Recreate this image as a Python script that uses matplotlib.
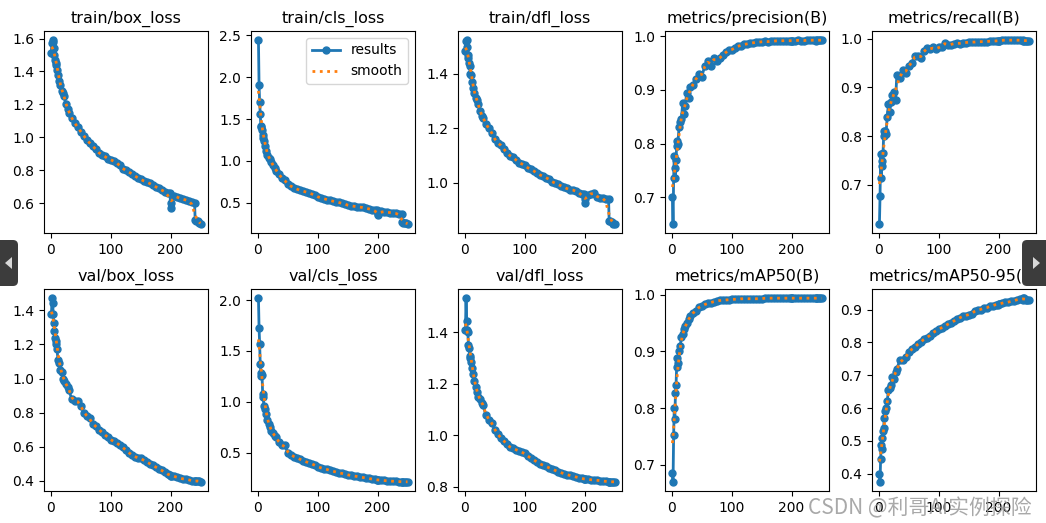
import numpy as np
import matplotlib
matplotlib.use("Agg")
import matplotlib.pyplot as plt
from matplotlib.patches import FancyBboxPatch, Polygon
from matplotlib.ticker import MultipleLocator

# ---------------- data ----------------
epochs = [1, 2, 3, 4, 5, 6, 7, 8, 9, 10,
          12, 14, 16, 18, 20, 22,
          25, 28,
          30, 35, 40, 45, 50, 55, 60, 65, 70, 75, 80, 85, 90, 95, 100, 105, 110,
          115, 120, 125, 130, 135, 140, 145, 150, 155, 160, 165, 170, 175, 180,
          185, 190, 195,
          199, 200, 201,
          205, 210, 215, 220, 225, 230, 235, 240,
          241, 243, 245, 248, 250]

train_box_loss = [1.515, 1.57, 1.59, 1.58, 1.54, 1.50, 1.47, 1.45, 1.44, 1.41,
                  1.38, 1.34, 1.32, 1.28, 1.27, 1.25,
                  1.20, 1.17,
                  1.145, 1.115, 1.085, 1.06, 1.035, 1.01, 0.985, 0.965, 0.945, 0.93,
                  0.905, 0.895, 0.885, 0.87, 0.865, 0.855, 0.845, 0.83, 0.81, 0.80,
                  0.79, 0.78, 0.765, 0.755, 0.745, 0.735, 0.73, 0.72, 0.71, 0.70,
                  0.69, 0.68, 0.67, 0.665,
                  0.66, 0.57, 0.60,
                  0.645, 0.64, 0.63, 0.625, 0.62, 0.615, 0.605, 0.60,
                  0.50, 0.495, 0.49, 0.48, 0.475]

train_cls_loss = [2.44, 1.91, 1.70, 1.56, 1.42, 1.40, 1.37, 1.31, 1.27, 1.24,
                  1.18, 1.12, 1.07, 1.04, 1.02, 0.99,
                  0.95, 0.92,
                  0.875, 0.84, 0.795, 0.77, 0.72, 0.70, 0.68, 0.665, 0.65, 0.64,
                  0.63, 0.62, 0.605, 0.595, 0.57, 0.56, 0.55, 0.54, 0.53, 0.52,
                  0.515, 0.505, 0.495, 0.49, 0.47, 0.465, 0.46, 0.455, 0.45, 0.445,
                  0.435, 0.43, 0.42, 0.415,
                  0.41, 0.35, 0.37,
                  0.40, 0.395, 0.39, 0.385, 0.38, 0.375, 0.37, 0.365,
                  0.27, 0.265, 0.26, 0.255, 0.25]

train_dfl_loss = [1.484, 1.522, 1.524, 1.50, 1.47, 1.46, 1.44, 1.43, 1.40, 1.395,
                  1.37, 1.35, 1.33, 1.31, 1.305, 1.29,
                  1.265, 1.245,
                  1.24, 1.215, 1.20, 1.185, 1.16, 1.145, 1.14, 1.125, 1.11, 1.10,
                  1.095, 1.085, 1.075, 1.07, 1.065, 1.055, 1.05, 1.045, 1.035, 1.03,
                  1.025, 1.02, 1.015, 1.005, 1.00, 0.995, 0.99, 0.985, 0.98, 0.975,
                  0.975, 0.97, 0.965, 0.96,
                  0.96, 0.925, 0.94,
                  0.955, 0.96, 0.965, 0.95, 0.945, 0.945, 0.94, 0.94,
                  0.86, 0.86, 0.855, 0.85, 0.85]

precision = [0.70, 0.65, 0.736, 0.777, 0.755, 0.735, 0.77, 0.795, 0.805, 0.80,
             0.83, 0.84, 0.845, 0.875, 0.855, 0.87,
             0.895, 0.885,
             0.905, 0.91, 0.92, 0.93, 0.925, 0.945, 0.955, 0.945, 0.96, 0.955,
             0.96, 0.965, 0.97, 0.975, 0.975, 0.978, 0.982, 0.983, 0.985, 0.986,
             0.987, 0.988, 0.989, 0.989, 0.99, 0.991, 0.99, 0.991, 0.991, 0.992,
             0.992, 0.992, 0.992, 0.992,
             0.992, 0.992, 0.992,
             0.992, 0.993, 0.992, 0.992, 0.993, 0.993, 0.993, 0.992,
             0.993, 0.993, 0.993, 0.993, 0.993]

recall = [0.62, 0.677, 0.763, 0.714, 0.75, 0.739, 0.765, 0.80, 0.81, 0.81,
          0.805, 0.84, 0.865, 0.85, 0.87, 0.885,
          0.89, 0.875,
          0.925, 0.92, 0.935, 0.93, 0.945, 0.95, 0.965, 0.965, 0.96, 0.975,
          0.98, 0.978, 0.982, 0.978, 0.982, 0.984, 0.992, 0.987, 0.988, 0.99,
          0.991, 0.99, 0.992, 0.992, 0.993, 0.993, 0.993, 0.994, 0.994, 0.994,
          0.994, 0.995, 0.995, 0.995,
          0.996, 0.996, 0.996,
          0.997, 0.997, 0.997, 0.997, 0.997, 0.997, 0.997, 0.997,
          0.996, 0.996, 0.996, 0.996, 0.996]

val_box_loss = [1.38, 1.472, 1.443, 1.38, 1.326, 1.28, 1.24, 1.22, 1.20, 1.175,
                1.11, 1.09, 1.05, 1.04, 1.00, 0.985,
                0.97, 0.95,
                0.93, 0.88, 0.865, 0.87, 0.84, 0.80, 0.78, 0.765, 0.73, 0.72,
                0.70, 0.685, 0.67, 0.655, 0.64, 0.63, 0.62, 0.61, 0.595, 0.58,
                0.565, 0.55, 0.54, 0.535, 0.53, 0.52, 0.51, 0.50, 0.49, 0.48,
                0.47, 0.46, 0.45, 0.44,
                0.435, 0.43, 0.43,
                0.425, 0.42, 0.415, 0.41, 0.41, 0.405, 0.40, 0.395,
                0.395, 0.40, 0.40, 0.395, 0.393]

val_cls_loss = [2.02, 1.73, 1.57, 1.37, 1.28, 1.25, 1.26, 1.08, 1.05, 0.96,
                0.93, 0.88, 0.82, 0.78, 0.75, 0.71,
                0.69, 0.66,
                0.655, 0.60, 0.57, 0.57, 0.50, 0.48, 0.46, 0.45, 0.435, 0.42,
                0.41, 0.40, 0.39, 0.375, 0.36, 0.35, 0.34, 0.335, 0.325, 0.315,
                0.31, 0.30, 0.295, 0.29, 0.28, 0.275, 0.27, 0.265, 0.26, 0.255,
                0.25, 0.245, 0.24, 0.235,
                0.232, 0.23, 0.23,
                0.228, 0.225, 0.222, 0.22, 0.218, 0.216, 0.215, 0.213,
                0.213, 0.212, 0.212, 0.212, 0.212]

val_dfl_loss = [1.41, 1.533, 1.443, 1.41, 1.40, 1.35, 1.34, 1.31, 1.30, 1.285,
                1.26, 1.24, 1.21, 1.19, 1.17, 1.15,
                1.14, 1.125,
                1.12, 1.08, 1.06, 1.05, 1.022, 1.005, 0.99, 0.98, 0.965, 0.955,
                0.95, 0.945, 0.94, 0.935, 0.93, 0.92, 0.912, 0.905, 0.898, 0.89,
                0.885, 0.88, 0.875, 0.87, 0.865, 0.86, 0.856, 0.852, 0.848, 0.845,
                0.842, 0.839, 0.836, 0.834,
                0.832, 0.831, 0.83,
                0.83, 0.828, 0.827, 0.826, 0.825, 0.823, 0.822, 0.821,
                0.82, 0.82, 0.82, 0.82, 0.82]

map50 = [0.686, 0.67, 0.753, 0.80, 0.78, 0.826, 0.84, 0.873, 0.888, 0.88,
         0.90, 0.91, 0.925, 0.93, 0.94, 0.945,
         0.95, 0.958,
         0.962, 0.968, 0.972, 0.978, 0.98, 0.983, 0.985, 0.986, 0.988, 0.989,
         0.99, 0.99, 0.991, 0.991, 0.992, 0.992, 0.992, 0.993, 0.993, 0.993,
         0.993, 0.993, 0.993, 0.993, 0.993, 0.994, 0.994, 0.994, 0.994, 0.994,
         0.994, 0.994, 0.994, 0.994,
         0.994, 0.994, 0.994,
         0.994, 0.994, 0.994, 0.994, 0.994, 0.994, 0.994, 0.994,
         0.994, 0.994, 0.994, 0.994, 0.994]

map50_95 = [0.40, 0.375, 0.445, 0.487, 0.475, 0.51, 0.53, 0.54, 0.57, 0.59,
            0.60, 0.62, 0.655, 0.66, 0.67, 0.695,
            0.69, 0.71,
            0.72, 0.745, 0.745, 0.755, 0.77, 0.78, 0.785, 0.795, 0.80, 0.81,
            0.815, 0.82, 0.83, 0.835, 0.84, 0.845, 0.85, 0.855, 0.86, 0.865,
            0.87, 0.875, 0.88, 0.882, 0.885, 0.888, 0.895, 0.90, 0.90, 0.905,
            0.905, 0.91, 0.912, 0.915,
            0.915, 0.918, 0.918,
            0.92, 0.922, 0.922, 0.925, 0.927, 0.93, 0.932, 0.935,
            0.93, 0.935, 0.93, 0.93, 0.93]

titles = ["train/box_loss", "train/cls_loss", "train/dfl_loss",
          "metrics/precision(B)", "metrics/recall(B)",
          "val/box_loss", "val/cls_loss", "val/dfl_loss",
          "metrics/mAP50(B)", "metrics/mAP50-95(B)"]
series = [train_box_loss, train_cls_loss, train_dfl_loss, precision, recall,
          val_box_loss, val_cls_loss, val_dfl_loss, map50, map50_95]
y_steps = [0.2, 0.5, 0.2, 0.1, 0.1, 0.2, 0.5, 0.2, 0.1, 0.1]


def smooth(x, y, sigma=3.0):
    x = np.asarray(x, float)
    y = np.asarray(y, float)
    w = np.exp(-((x[:, None] - x[None, :]) ** 2) / (2 * sigma ** 2))
    return (w @ y) / w.sum(axis=1)


W, H = 1046, 523
DPI = 100
fig, axes = plt.subplots(2, 5, figsize=(W / DPI, H / DPI), dpi=DPI)
fig.subplots_adjust(left=44 / W, right=1036 / W, top=1 - 31 / H,
                    bottom=1 - 491 / H, wspace=0.262, hspace=0.277)

for i, ax in enumerate(axes.ravel()):
    y = series[i]
    ax.plot(epochs, y, marker=".", label="results", linewidth=2, markersize=10,
            color="#1f77b4")
    ax.plot(epochs, smooth(epochs, y), ":", label="smooth", linewidth=2,
            color="#ff7f0e")
    ax.set_title(titles[i], fontsize=11.5)
    ax.tick_params(labelsize=10)
    ax.set_xticks([0, 100, 200])
    ax.yaxis.set_major_locator(MultipleLocator(y_steps[i]))

axes[0, 1].legend(loc="upper right", fontsize=10)

# screenshot overlays: navigation buttons and watermark
for (x0, y0, w, h, pts) in [
        (-6, 523 - 286, 24, 46, [(12, 523 - 257), (12, 523 - 269), (5, 523 - 263)]),
        (1022, 523 - 286, 30, 46, [(1033, 523 - 257), (1033, 523 - 269), (1040, 523 - 263)])]:
    fig.add_artist(FancyBboxPatch((x0, y0), w, h,
                                  boxstyle="round,pad=0,rounding_size=5",
                                  transform=None, facecolor="#3c3c3c",
                                  edgecolor="none", zorder=10))
    fig.add_artist(Polygon(pts, closed=True, transform=None,
                           facecolor="#d8d8d8", edgecolor="none", zorder=11))

fig.text(808 / W, 1 - 514 / H, "CSDN @利哥AI实例探险",
         family=["Noto Sans CJK SC", "DejaVu Sans"], fontsize=15,
         color="#9a9a9a", alpha=0.85, va="baseline", ha="left", zorder=12)

fig.savefig("out.png", dpi=DPI)
